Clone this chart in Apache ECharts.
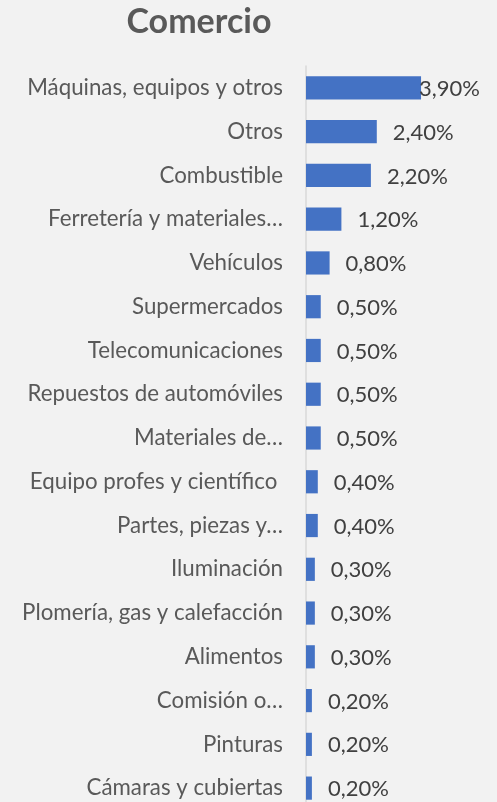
<!DOCTYPE html>
<html>
<head>
<meta charset="utf-8">
<script src="https://cdn.jsdelivr.net/npm/echarts@6/dist/echarts.min.js"></script>
<style>
html,body{margin:0;padding:0;background:#F2F2F2;}
#c{width:497px;height:802px;}
</style>
</head>
<body>
<div id="c"></div>
<script>
const titleText = "Comercio";
const categories = [
  "Máquinas, equipos y otros",
  "Otros",
  "Combustible",
  "Ferretería y materiales…",
  "Vehículos",
  "Supermercados",
  "Telecomunicaciones",
  "Repuestos de automóviles",
  "Materiales de…",
  "Equipo profes y científico ",
  "Partes, piezas y…",
  "Iluminación",
  "Plomería, gas y calefacción",
  "Alimentos",
  "Comisión o…",
  "Pinturas",
  "Cámaras y cubiertas"
];
const values = [3.9, 2.4, 2.2, 1.2, 0.8, 0.5, 0.5, 0.5, 0.5, 0.4, 0.4, 0.3, 0.3, 0.3, 0.2, 0.2, 0.2];

const FONT = "Lato, 'Noto Sans', sans-serif";
const chart = echarts.init(document.getElementById('c'), null, {renderer: 'canvas'});
const data = values.map((v, i) => i === 0
  ? {value: v, label: {offset: [-18, 1]}}
  : {value: v});

chart.setOption({
  backgroundColor: '#F2F2F2',
  animation: false,
  graphic: [{
    type: 'text',
    x: 199, y: 22,
    style: {
      text: titleText,
      textAlign: 'center',
      textVerticalAlign: 'middle',
      fill: '#595959',
      font: "bold 34px " + FONT
    }
  }],
  grid: {left: 306, width: 177, top: 66, height: 744, containLabel: false, outerBoundsMode: 'none'},
  xAxis: {
    type: 'value', min: 0, max: 6,
    show: false,
    splitLine: {show: false}
  },
  yAxis: {
    type: 'category',
    inverse: true,
    data: categories,
    axisLine: {show: true, lineStyle: {color: '#D9D9D9', width: 1.5}},
    axisTick: {show: false},
    axisLabel: {
      color: '#595959',
      fontFamily: FONT,
      fontSize: 22.3,
      margin: 23
    }
  },
  series: [{
    type: 'bar',
    data: data,
    barCategoryGap: '47%',
    itemStyle: {color: '#4472C4'},
    label: {
      show: true,
      position: 'right',
      distance: 16,
      offset: [0, 1],
      color: '#404040',
      fontFamily: FONT,
      fontSize: 22,
      formatter: p => p.value.toFixed(2).replace('.', ',') + '%'
    }
  }]
});
</script>
</body>
</html>
